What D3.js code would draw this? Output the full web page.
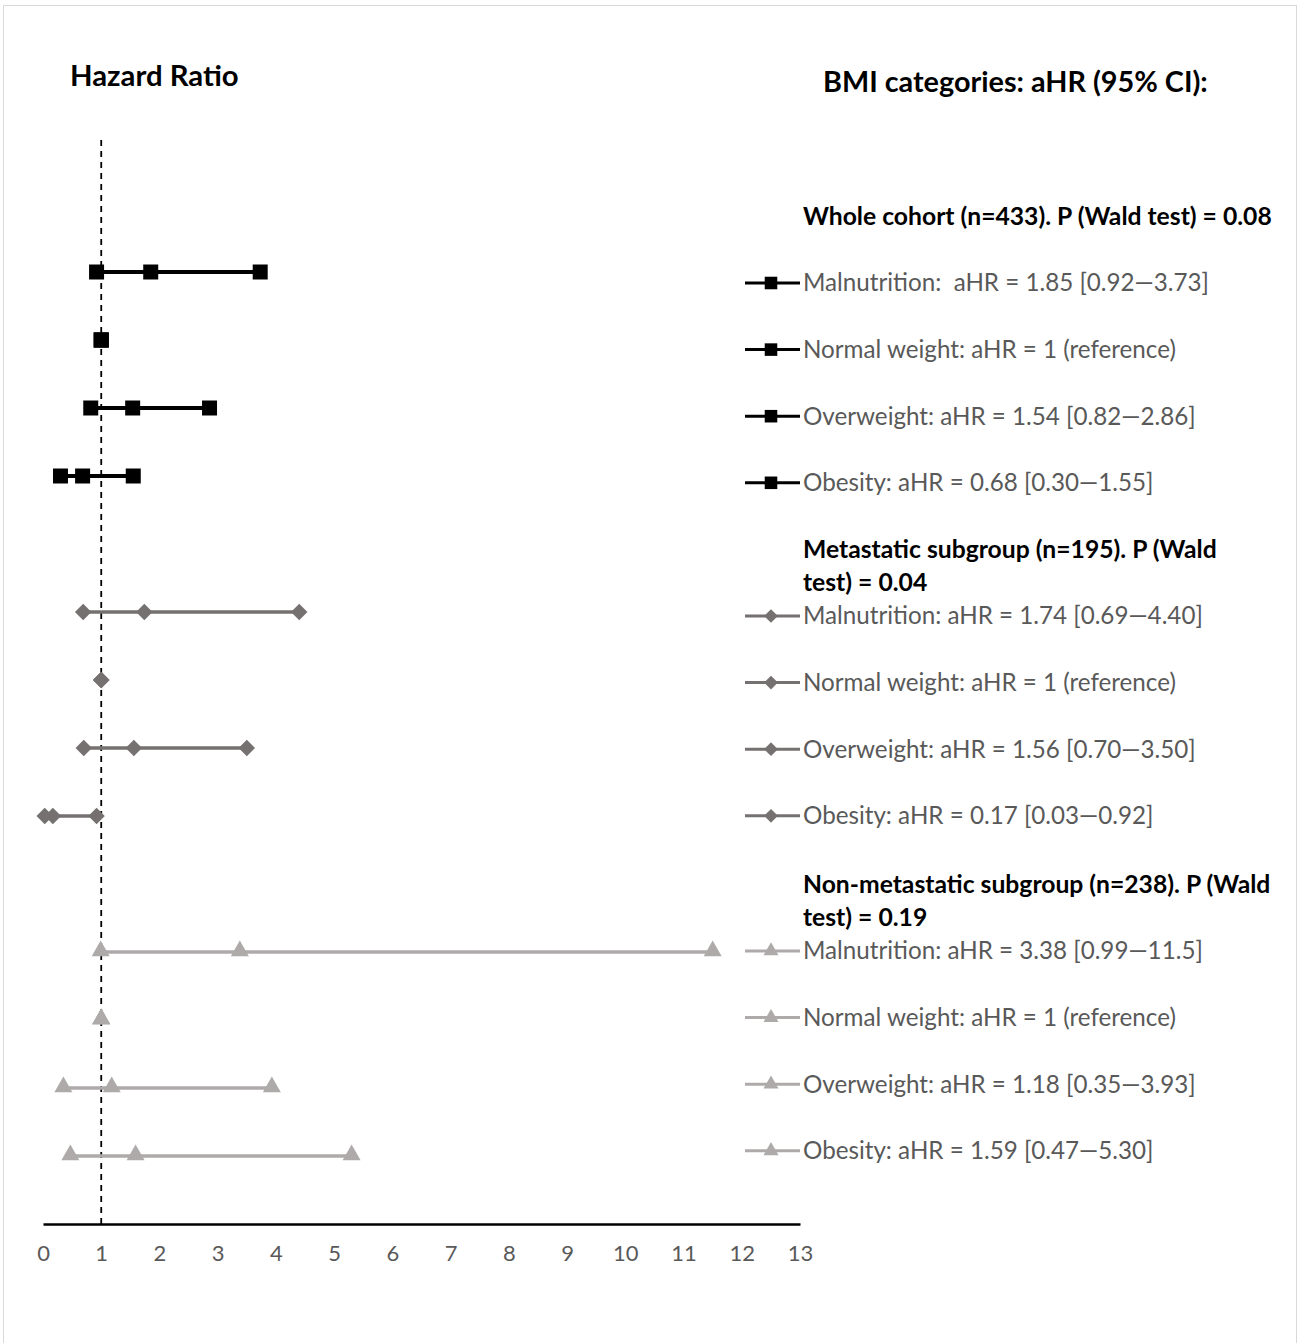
<!DOCTYPE html>
<html>
<head>
<meta charset="utf-8">
<script src="https://cdn.jsdelivr.net/npm/d3@7"></script>
<style>
  body { margin: 0; background: #fff; }
  svg text { font-family: Lato, "Open Sans", sans-serif; white-space: pre; }
</style>
</head>
<body>
<div id="chart"></div>
<script>
// data
var groupNames = ["Whole cohort (n=433). P (Wald test) = 0.08",
                  "Metastatic subgroup (n=195). P (Wald test) = 0.04",
                  "Non-metastatic subgroup (n=238). P (Wald test) = 0.19"];
var categories = ["Malnutrition", "Normal weight", "Overweight", "Obesity"];
var wholeHR  = [1.85, 1, 1.54, 0.68];
var wholeLo  = [0.92, 1, 0.82, 0.30];
var wholeHi  = [3.73, 1, 2.86, 1.55];
var metaHR   = [1.74, 1, 1.56, 0.17];
var metaLo   = [0.69, 1, 0.70, 0.03];
var metaHi   = [4.40, 1, 3.50, 0.92];
var nonHR    = [3.38, 1, 1.18, 1.59];
var nonLo    = [0.99, 1, 0.35, 0.47];
var nonHi    = [11.5, 1, 3.93, 5.30];
var legendLabels = [
  ["Malnutrition:  aHR = 1.85 [0.92\u20143.73]", "Normal weight: aHR = 1 (reference)", "Overweight: aHR = 1.54 [0.82\u20142.86]", "Obesity: aHR = 0.68 [0.30\u20141.55]"],
  ["Malnutrition: aHR = 1.74 [0.69\u20144.40]", "Normal weight: aHR = 1 (reference)", "Overweight: aHR = 1.56 [0.70\u20143.50]", "Obesity: aHR = 0.17 [0.03\u20140.92]"],
  ["Malnutrition: aHR = 3.38 [0.99\u201411.5]", "Normal weight: aHR = 1 (reference)", "Overweight: aHR = 1.18 [0.35\u20143.93]", "Obesity: aHR = 1.59 [0.47\u20145.30]"]
];
var xTicks = d3.range(0, 14);

var series = [
  {hr: wholeHR, lo: wholeLo, hi: wholeHi, color: "#000000", symbol: d3.symbolSquare, size: 225, rot: 0, lw: 4},
  {hr: metaHR,  lo: metaLo,  hi: metaHi,  color: "#767171", symbol: d3.symbolSquare, size: 135, rot: 45, lw: 3.5},
  {hr: nonHR,   lo: nonLo,   hi: nonHi,   color: "#aeaaaa", symbol: d3.symbolTriangle, size: 140, rot: 0, lw: 3.5}
];

var width = 1300, height = 1343;

var svg = d3.select("#chart").append("svg")
  .attr("width", width)
  .attr("height", height);

// chart frame
svg.append("rect")
  .attr("x", 3.5).attr("y", 5.5)
  .attr("width", 1293).attr("height", 1345)
  .attr("fill", "none")
  .attr("stroke", "#d9d9d9")
  .attr("stroke-width", 1);

var x = d3.scaleLinear().domain([0, 13]).range([43, 800]);
// rows: one header slot then 4 categories per group, axis at slot 15
var y = d3.scaleLinear().domain([0, 15]).range([204, 1224]);

// reference line at HR = 1
svg.append("line")
  .attr("x1", x(1)).attr("x2", x(1))
  .attr("y1", 140).attr("y2", y(15))
  .attr("stroke", "#000")
  .attr("stroke-width", 1.8)
  .attr("stroke-dasharray", "6,5");

// x axis
var xAxis = d3.axisBottom(x).tickValues(xTicks).tickSize(0).tickPadding(21);
var gx = svg.append("g")
  .attr("transform", "translate(0," + y(15) + ")")
  .call(xAxis);
gx.select(".domain").attr("stroke", "#000").attr("stroke-width", 2.5);
gx.selectAll("text")
  .attr("fill", "#595959")
  .style("font-size", "22px")
  .style("font-family", "Lato, sans-serif");

function marker(s, scale) {
  return d3.symbol().type(s.symbol).size(s.size * (scale || 1))();
}

// error bars + markers
series.forEach(function(s, gi) {
  var g = svg.append("g");
  categories.forEach(function(c, ci) {
    var row = gi * 5 + 1 + ci;
    var yy = y(row);
    g.append("line")
      .attr("x1", x(s.lo[ci])).attr("x2", x(s.hi[ci]))
      .attr("y1", yy).attr("y2", yy)
      .attr("stroke", s.color)
      .attr("stroke-width", s.lw);
    [s.lo[ci], s.hr[ci], s.hi[ci]].forEach(function(v) {
      g.append("path")
        .attr("d", marker(s))
        .attr("transform", "translate(" + x(v) + "," + (yy - (s.symbol === d3.symbolTriangle ? 1 : 0)) + ") rotate(" + s.rot + ")")
        .attr("fill", s.color);
    });
  });
});

// titles
svg.append("text")
  .attr("x", 70).attr("y", 86)
  .attr("font-weight", "bold")
  .style("font-size", "29.3px")
  .attr("fill", "#000")
  .text("Hazard Ratio");

svg.append("text")
  .attr("x", 823).attr("y", 92)
  .attr("font-weight", "bold")
  .style("font-size", "28.8px")
  .attr("fill", "#000")
  .text("BMI categories: aHR (95% CI):");

// legend
var headerLines = [
  [groupNames[0]],
  ["Metastatic subgroup (n=195). P (Wald", "test) = 0.04"],
  ["Non-metastatic subgroup (n=238). P (Wald", "test) = 0.19"]
];
var headerY = [216, 549, 884];
var legendStart = [283, 616, 951];
var legendStep = 66.6;

series.forEach(function(s, gi) {
  var lg = svg.append("g");
  headerLines[gi].forEach(function(t, li) {
    lg.append("text")
      .attr("x", 803).attr("y", headerY[gi] + li * 33)
      .attr("dy", "0.35em")
      .attr("font-weight", "bold")
      .style("font-size", "24.7px")
      .attr("fill", "#000")
      .text(t);
  });
  legendLabels[gi].forEach(function(t, li) {
    var yy = legendStart[gi] + li * legendStep;
    lg.append("line")
      .attr("x1", 745).attr("x2", 800)
      .attr("y1", yy).attr("y2", yy)
      .attr("stroke", s.color).attr("stroke-width", 3);
    lg.append("path")
      .attr("d", marker(s, 0.7))
      .attr("transform", "translate(771," + yy + ") rotate(" + s.rot + ")")
      .attr("fill", s.color);
    lg.append("text")
      .attr("x", 803).attr("y", yy)
      .attr("dy", "0.35em")
      .style("font-size", "24.2px")
      .attr("fill", "#595959")
      .text(t);
  });
});
</script>
</body>
</html>
